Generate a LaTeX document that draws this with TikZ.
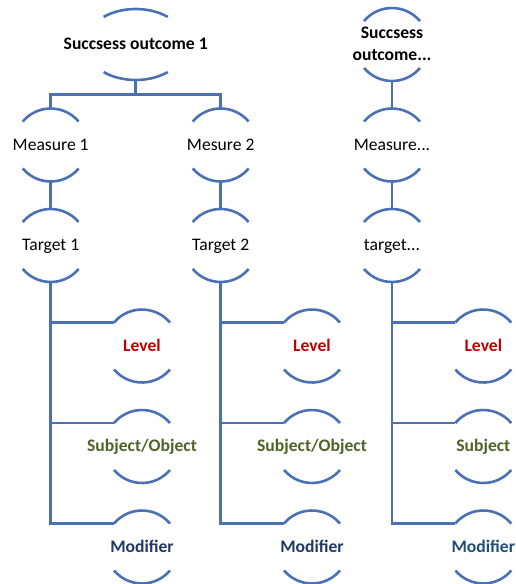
\documentclass[tikz,border=0pt]{standalone}
\usepackage{fontspec}
\setmainfont{Carlito}
\definecolor{hierline}{HTML}{4A71B5}
\definecolor{levelred}{HTML}{C00000}
\definecolor{subjgreen}{HTML}{4F6228}
\definecolor{modnavy}{HTML}{1F3864}
\definecolor{modblue}{HTML}{1F4E79}
\newcommand{\boxsize}{\fontsize{17.6}{22}\selectfont}
\tikzset{
  box/.style={draw=none,minimum height=73pt,inner sep=0pt,align=center,font=\boxsize,text height=12pt,text depth=1.6pt},
  link/.style={draw=hierline,line width=2.6pt},
}
\begin{document}
\begin{tikzpicture}[x=1pt,y=1pt]
\clip (0,0) rectangle (515,-584);

%%%Success outcome 1 with measure 1 and 2
\node[box,minimum height=71pt,font=\boxsize\bfseries] (s1) at (135.7,-44.5) {Succsess outcome 1};

%%%Column 1
\begin{scope}[xshift=50.7pt]
%Measure and target
\node[box] (m1) at (0,-145) {Measure 1};
\node[box] (t1) at (0,-245.5) {Target 1};
%Parts of the target
\node[box,font=\boxsize\bfseries,text=levelred] (lv1) at (91.3,-346) {Level};
\node[box,font=\boxsize\bfseries,text=subjgreen] (sb1) at (91.3,-446.5) {Subject/Object};
\node[box,font=\boxsize\bfseries,text=modnavy] (md1) at (91.3,-547) {Modifier};
\end{scope}

%%%Column 2
\begin{scope}[xshift=220.7pt]
%Measure and target
\node[box] (m2) at (0,-145) {Mesure 2};
\node[box] (t2) at (0,-245.5) {Target 2};
%Parts of the target
\node[box,font=\boxsize\bfseries,text=levelred] (lv2) at (91.3,-346) {Level};
\node[box,font=\boxsize\bfseries,text=subjgreen] (sb2) at (91.3,-446.5) {Subject/Object};
\node[box,font=\boxsize\bfseries,text=modnavy] (md2) at (91.3,-547) {Modifier};
\end{scope}

%%%Column 3, own success outcome
\begin{scope}[xshift=392pt]
\node[box,font=\boxsize\bfseries,text height=32pt,text depth=0pt] (s3) at (0,-44.5) {Succsess\\outcome...};
%Measure and target
\node[box] (m3) at (0,-145) {Measure...};
\node[box] (t3) at (0,-245.5) {target...};
%Parts of the target
\node[box,font=\boxsize\bfseries,text=levelred] (lv3) at (91.3,-346) {Level};
\node[box,font=\boxsize\bfseries,text=subjgreen] (sb3) at (91.3,-446.5) {Subject};
\node[box,font=\boxsize\bfseries,text=modblue] (md3) at (91.3,-547) {Modifier};
\end{scope}

%%%Arcs above and below each text
\draw[link] ([shift={(51:51pt and 35.5pt)}]s1.center) arc[start angle=51,end angle=129,x radius=51pt,y radius=35.5pt];
\draw[link] ([shift={(231:51pt and 35.5pt)}]s1.center) arc[start angle=231,end angle=309,x radius=51pt,y radius=35.5pt];
\foreach \n in {s3,m1,m2,m3,t1,t2,t3,lv1,lv2,lv3,sb1,sb2,sb3,md1,md2,md3} {
  \draw[link] ([shift={(40:36.5pt)}]\n.center) arc[start angle=40,end angle=140,radius=36.5pt];
  \draw[link] ([shift={(220:36.5pt)}]\n.center) arc[start angle=220,end angle=320,radius=36.5pt];
}

%%%Tree lines
\draw[link] (s1.south) -- ([yshift=-14.5pt]s1.south);
\draw[link] (m1.north) |- ([yshift=-14.5pt]s1.south) -| (m2.north);
\draw[link] (s3.south) -- (m3.north);
\foreach \c in {1,2,3} {
  \draw[link] (m\c.south) -- (t\c.north);
  \foreach \k in {lv,sb,md} \draw[link] (t\c.south) |- ([shift={(140:36.5pt)}]\k\c.center);
}

\end{tikzpicture}
\end{document}
